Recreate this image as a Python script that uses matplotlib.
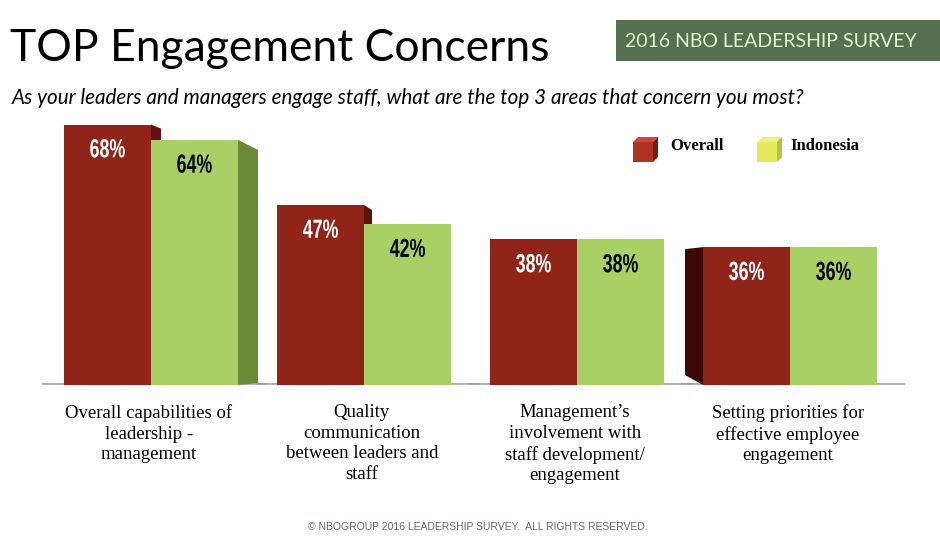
import numpy as np
import matplotlib.pyplot as plt
from matplotlib.patches import Polygon, Rectangle, PathPatch
from matplotlib.textpath import TextPath
from matplotlib.font_manager import FontProperties
from matplotlib.transforms import Affine2D, IdentityTransform

# data
categories = ["Overall capabilities of\nleadership -\nmanagement",
              "Quality\ncommunication\nbetween leaders and\nstaff",
              "Management\u2019s\ninvolvement with\nstaff development/\nengagement",
              "Setting priorities for\neffective employee\nengagement"]
overall = [68, 47, 38, 36]
indonesia = [64, 42, 38, 36]
series_names = ["Overall", "Indonesia"]

W, H = 940, 546
RED = "#912419"
GREEN = "#a8d064"


def px(x, y):
    # pixel (from top-left) to figure fraction
    return x / W, 1 - y / H


def narrow_label(ax, x, y, s, color, height=19, squeeze=0.68):
    # bold digits squeezed sideways, centred on a data point
    tp = TextPath((0, 0), s, size=height * 1.38,
                  prop=FontProperties(family="Liberation Sans", weight="bold"))
    ext = tp.get_extents()
    cx, cy = (ext.x0 + ext.x1) / 2, (ext.y0 + ext.y1) / 2
    X, Y = ax.transData.transform((x, y))
    tr = Affine2D().translate(-cx, -cy).scale(squeeze, 1.0).translate(X, Y)
    patch = PathPatch(tr.transform_path(tp), fc=color, ec="none", transform=IdentityTransform())
    ax.figure.add_artist(patch)


fig = plt.figure(figsize=(W / 100, H / 100), dpi=100)
fig.patch.set_facecolor("white")

# main axes: baseline at y=385px, 3.83 px per percent
ppy = 3.83
base_px = 385
ax = fig.add_axes([0, (H - base_px) / H, 1, 70 * ppy / H])
ax.set_xlim(-151 / 213, (940 - 151) / 213)
ax.set_ylim(0, 70)
ax.axis("off")

bw = 87 / 213
x = np.arange(len(categories))
dx = 1 / 213   # one pixel in x
dy = 1 / ppy   # one pixel in y

# floor shadow under each group
grad = np.linspace(0.6, 1.0, 20).reshape(-1, 1)
for i in x:
    ax.imshow(grad, cmap="gray", vmin=0, vmax=1, aspect="auto",
              extent=(i - bw - 22 * dx, i + bw + 28 * dx, -2.0, 0.4), zorder=0, alpha=0.8)
ax.set_xlim(-151 / 213, (940 - 151) / 213)
ax.set_ylim(0, 70)

# side faces (perspective differs per group)
for i in x:
    r, g = overall[i], indonesia[i]
    if i == 0:
        ax.add_patch(Polygon([(i, r), (i + 10 * dx, r - 4 * dy), (i + 10 * dx, 0), (i, 0)],
                             closed=True, fc="#5e120b", ec="none", zorder=1))
        ax.add_patch(Polygon([(i + bw, g), (i + bw + 20 * dx, g - 10 * dy),
                              (i + bw + 20 * dx, 2 * dy), (i + bw, 0)],
                             closed=True, fc="#6a8a3a", ec="none", zorder=1))
    elif i == 1:
        ax.add_patch(Polygon([(i, r), (i + 8 * dx, r - 5 * dy), (i + 8 * dx, 0), (i, 0)],
                             closed=True, fc="#5e120b", ec="none", zorder=1))
    elif i == 3:
        ax.add_patch(Polygon([(i - bw, r), (i - bw - 18 * dx, r - 2 * dy),
                              (i - bw - 18 * dx, 10 * dy), (i - bw, 0)],
                             closed=True, fc="#3a0805", ec="none", zorder=1))

ax.bar(x - bw / 2, overall, width=bw, color=RED, zorder=2)
ax.bar(x + bw / 2, indonesia, width=bw, color=GREEN, zorder=2)

for i in x:
    narrow_label(ax, i - bw / 2, overall[i] - 6.2, f"{overall[i]}%", "white")
    narrow_label(ax, i + bw / 2, indonesia[i] - 6.2, f"{indonesia[i]}%", "black")
    ax.text(i - 0.01, -5.0, categories[i], ha="center", va="top", fontsize=13.5,
            family="Liberation Serif", linespacing=1.28, clip_on=False)

# title and header
fig.text(*px(10, 61), "TOP Engagement Concerns", fontsize=32, family="Lato",
         ha="left", va="baseline")
fig.add_artist(Rectangle(px(616, 61), 324 / W, 41 / H, transform=fig.transFigure,
                         fc="#56704f", ec="none"))
fig.text(*px(625, 47), "2016 NBO LEADERSHIP SURVEY", fontsize=14, family="Lato",
         color="#dff5d0", ha="left", va="baseline")
fig.text(*px(12, 104), "As your leaders and managers engage staff, what are the top 3 areas "
         "that concern you most?", fontsize=14.9, family="Lato", style="italic",
         ha="left", va="baseline")


# legend cubes
def cube(x0, y0, front, top, side):
    s, d = 20, 5
    pts_front = [px(x0, y0), px(x0 + s, y0), px(x0 + s, y0 + s), px(x0, y0 + s)]
    pts_top = [px(x0, y0), px(x0 + d, y0 - d), px(x0 + s + d, y0 - d), px(x0 + s, y0)]
    pts_side = [px(x0 + s, y0), px(x0 + s + d, y0 - d), px(x0 + s + d, y0 + s - d), px(x0 + s, y0 + s)]
    for pts, c in [(pts_front, front), (pts_top, top), (pts_side, side)]:
        fig.add_artist(Polygon(pts, closed=True, transform=fig.transFigure, fc=c, ec="none"))


cube(633, 142, "#b03222", "#c8483a", "#7a1a10")
fig.text(*px(670, 146), series_names[0], fontsize=12, fontweight="bold",
         family="Liberation Serif", ha="left", va="center")
cube(757, 142, "#e2ea5c", "#eef27a", "#b8c040")
fig.text(*px(790, 146), series_names[1], fontsize=12, fontweight="bold",
         family="Liberation Serif", ha="left", va="center")

fig.text(*px(478, 527), "\u00a9 NBOGROUP 2016 LEADERSHIP SURVEY.  ALL RIGHTS RESERVED.",
         fontsize=7.5, family="Liberation Sans", color="#5f6f55", ha="center", va="center")

fig.savefig("out.png", dpi=100)
